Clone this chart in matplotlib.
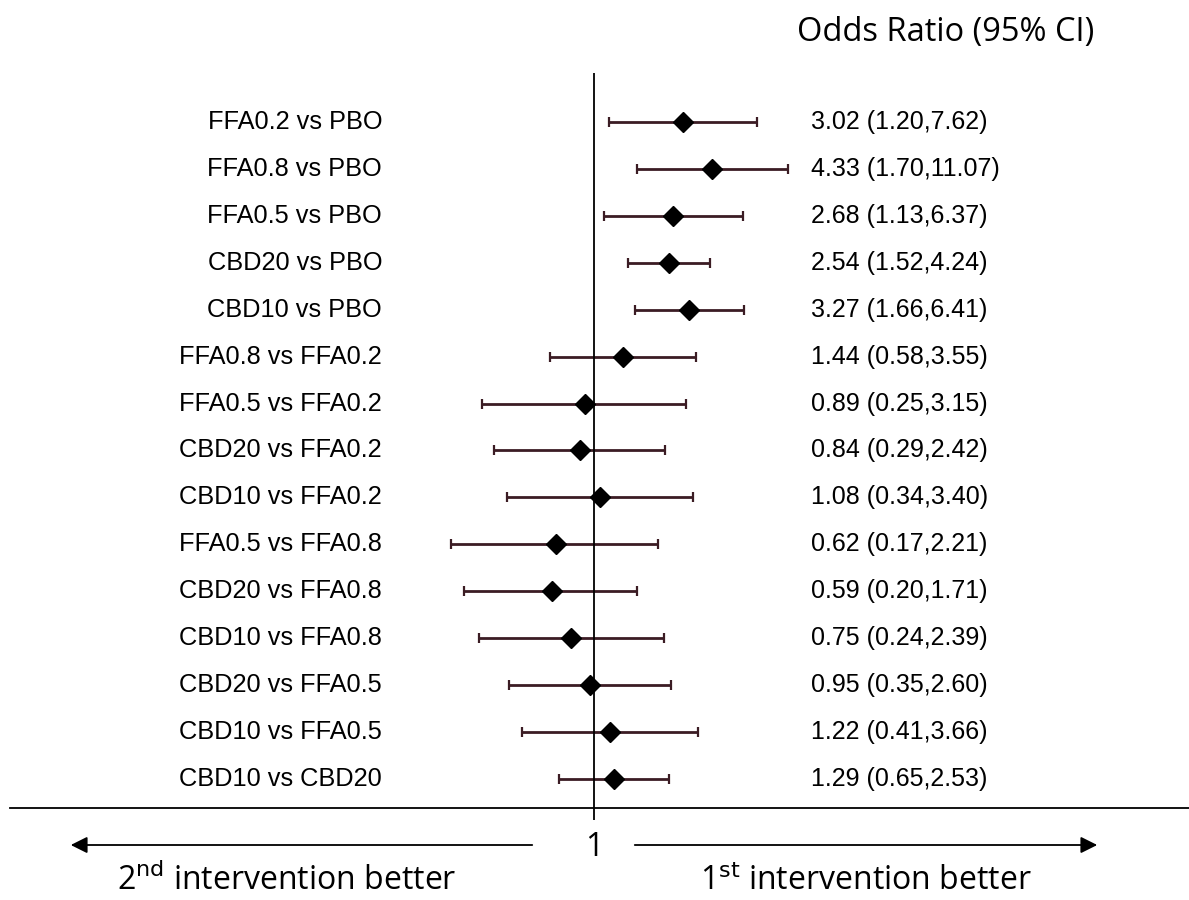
import numpy as np
import matplotlib.pyplot as plt
from matplotlib.lines import Line2D
from matplotlib.patches import FancyArrowPatch
from matplotlib.transforms import blended_transform_factory

# Network meta-analysis comparisons
labels = ['FFA0.2 vs PBO', 'FFA0.8 vs PBO', 'FFA0.5 vs PBO', 'CBD20 vs PBO', 'CBD10 vs PBO',
          'FFA0.8 vs FFA0.2', 'FFA0.5 vs FFA0.2', 'CBD20 vs FFA0.2', 'CBD10 vs FFA0.2',
          'FFA0.5 vs FFA0.8', 'CBD20 vs FFA0.8', 'CBD10 vs FFA0.8', 'CBD20 vs FFA0.5',
          'CBD10 vs FFA0.5', 'CBD10 vs CBD20']
odds = [3.02, 4.33, 2.68, 2.54, 3.27, 1.44, 0.89, 0.84, 1.08, 0.62, 0.59, 0.75, 0.95, 1.22, 1.29]
ci_low = [1.20, 1.70, 1.13, 1.52, 1.66, 0.58, 0.25, 0.29, 0.34, 0.17, 0.20, 0.24, 0.35, 0.41, 0.65]
ci_high = [7.62, 11.07, 6.37, 4.24, 6.41, 3.55, 3.15, 2.42, 3.40, 2.21, 1.71, 2.39, 2.60, 3.66, 2.53]

W, H = 1189, 900
fig = plt.figure(figsize=(W / 100, H / 100), dpi=100)

# axes placed so OR=1 sits at x=594 px, ~80.5 px per ln unit
x0 = 594 + 80.5 * np.log(0.05)
x1 = 594 + 80.5 * np.log(30)
ax = fig.add_axes([x0 / W, 1 - 820 / H, (x1 - x0) / W, (820 - 73) / H])
ax.set_xscale('log')
ax.set_xlim(0.05, 30)
ax.set_ylim(14.87, -1.04)
ax.axis('off')

y = np.arange(len(labels))
odds = np.array(odds)
err = [odds - np.array(ci_low), np.array(ci_high) - odds]
ax.errorbar(odds, y, xerr=err, fmt='none', ecolor='#3b1c24', elinewidth=2,
            capsize=3.5, capthick=1.6)
ax.plot(odds, y, 'D', color='black', markersize=10, zorder=3)
ax.axvline(1, color='black', lw=1.3)

tr = blended_transform_factory(fig.transFigure, ax.transData)
for i in range(len(labels)):
    fig.text(382 / W, y[i], labels[i], ha='right', va='center', fontsize=18.3,
             family='Liberation Sans', transform=tr)
    txt = f'{odds[i]:.2f} ({ci_low[i]:.2f},{ci_high[i]:.2f})'
    fig.text(811 / W, y[i], txt, ha='left', va='center', fontsize=18,
             family='Liberation Sans', transform=tr)

# header
fig.text(797 / W, 1 - 33 / H, 'Odds Ratio (95% CI)', ha='left', va='center',
         fontsize=23.5, family='Open Sans')

# bottom baseline
fig.add_artist(Line2D([10 / W, 1.0], [1 - 808 / H, 1 - 808 / H], color='black', lw=1.3))

# direction arrows
ya = 1 - 845 / H
fig.add_artist(FancyArrowPatch((535 / W, ya), (68 / W, ya), transform=fig.transFigure,
                               arrowstyle='-|>', mutation_scale=25, color='black', lw=1.3))
fig.add_artist(FancyArrowPatch((632 / W, ya), (1100 / W, ya), transform=fig.transFigure,
                               arrowstyle='-|>', mutation_scale=25, color='black', lw=1.3))
fig.text(594 / W, 1 - 848 / H, '1', ha='center', va='center', fontsize=23, family='Open Sans')

fig.text(287 / W, 1 - 881 / H, r'2$^{\mathrm{nd}}$ intervention better', ha='center', va='center',
         fontsize=23, family='Open Sans')
fig.text(866 / W, 1 - 881 / H, r'1$^{\mathrm{st}}$ intervention better', ha='center', va='center',
         fontsize=23, family='Open Sans')

fig.savefig('out.png', dpi=100)
